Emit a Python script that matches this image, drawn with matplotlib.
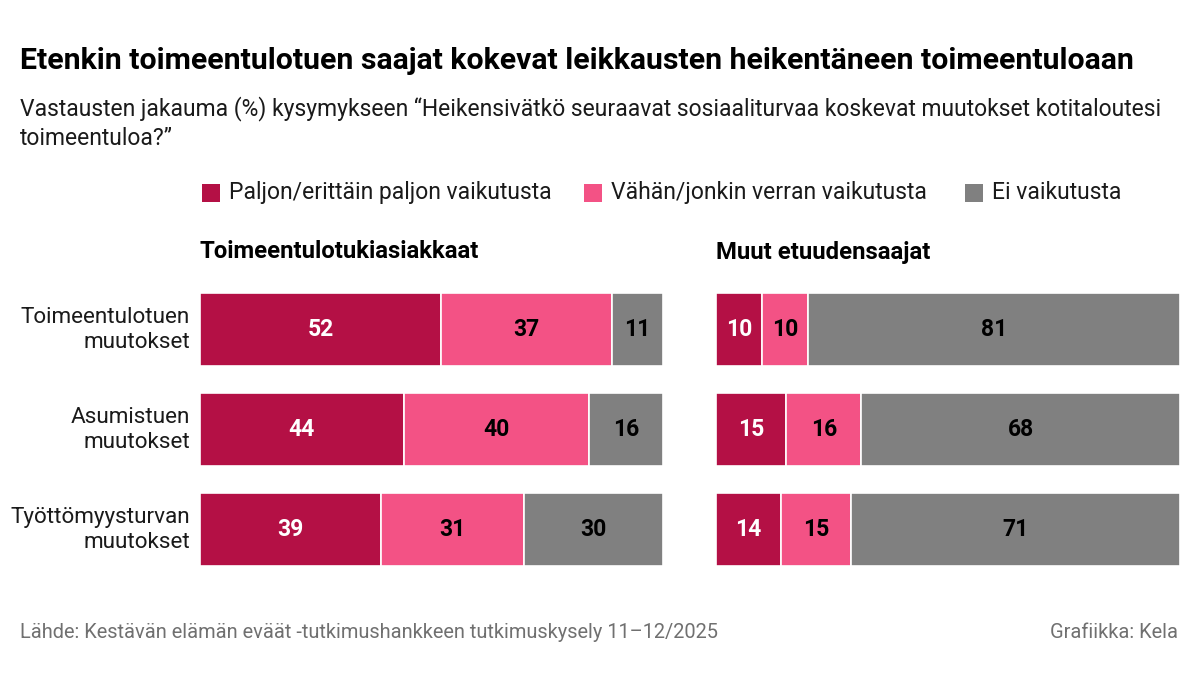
import matplotlib
matplotlib.use("Agg")
import matplotlib.pyplot as plt
from matplotlib import font_manager as fm
from matplotlib.patches import Rectangle

# ---- data ----
categories = ["Toimeentulotuen\nmuutokset", "Asumistuen\nmuutokset", "Työttömyysturvan\nmuutokset"]
series_labels = ["Paljon/erittäin paljon vaikutusta", "Vähän/jonkin verran vaikutusta", "Ei vaikutusta"]
panel_titles = ["Toimeentulotukiasiakkaat", "Muut etuudensaajat"]
left_paljon = [52, 44, 39]
left_vahan = [37, 40, 31]
left_ei = [11, 16, 30]
right_paljon = [10, 15, 14]
right_vahan = [10, 16, 15]
right_ei = [81, 68, 71]

title = "Etenkin toimeentulotuen saajat kokevat leikkausten heikentäneen toimeentuloaan"
subtitle = ("Vastausten jakauma (%) kysymykseen “Heikensivätkö seuraavat sosiaaliturvaa koskevat muutokset kotitaloutesi\n"
            "toimeentuloa?”")
source = "Lähde: Kestävän elämän eväät -tutkimushankkeen tutkimuskysely 11–12/2025"
credit = "Grafiikka: Kela"

colors = ["#B41045", "#F35285", "#808080"]
label_colors = ["white", "black", "black"]

def has_font(name):
    try:
        fm.findfont(fm.FontProperties(family=name), fallback_to_default=False)
        return True
    except Exception:
        return False

body = "Roboto" if has_font("Roboto") else "DejaVu Sans"
plt.rcParams["font.family"] = [body, "DejaVu Sans"]

W, H = 1200, 675
fig = plt.figure(figsize=(W / 100, H / 100), dpi=100)
fig.patch.set_facecolor("white")

def fx(x):
    return x / W

def fy(y):
    return 1 - y / H

TXT = "#1a1a1a"
fig.text(fx(20), fy(61), title, fontsize=21.8, fontweight="bold",
         ha="left", va="center", color="black")
fig.text(fx(20), fy(96), subtitle, fontsize=16.5, ha="left", va="top",
         color=TXT, linespacing=1.35)

# legend
leg_sq = [202, 584, 965]
for i, (lab, c) in enumerate(zip(series_labels, colors)):
    fig.patches.append(Rectangle((fx(leg_sq[i]), fy(202)), 18 / W, 18 / H, transform=fig.transFigure,
                                 facecolor=c, edgecolor="none"))
    fig.text(fx(leg_sq[i] + 27), fy(192), lab, fontsize=16.5, ha="left", va="center",
             color=TXT)

panels = [
    (200, 663, [left_paljon, left_vahan, left_ei]),
    (716, 1180, [right_paljon, right_vahan, right_ei]),
]
top, bottom = 279.5, 579.5
for p, (x0, x1, data) in enumerate(panels):
    ax = fig.add_axes([fx(x0), fy(bottom), (x1 - x0) / W, (bottom - top) / H])
    ax.set_xlim(0, 100)
    ax.set_ylim(len(categories) - 0.5, -0.5)
    ax.axis("off")
    totals = [sum(v[i] for v in data) for i in range(len(categories))]
    lefts = [0.0] * len(categories)
    for s, vals in enumerate(data):
        widths = [vals[i] / totals[i] * 100 for i in range(len(categories))]
        ax.barh(range(len(categories)), widths, left=lefts, height=0.73, color=colors[s],
                edgecolor="white", linewidth=1.2)
        for i in range(len(categories)):
            ax.text(lefts[i] + widths[i] / 2, i, str(vals[i]), ha="center", va="center",
                    fontsize=16.5, fontweight="bold", color=label_colors[s])
        lefts = [lefts[i] + widths[i] for i in range(len(categories))]
    fig.text(fx(x0), fy(252), panel_titles[p], fontsize=17.2, fontweight="bold", ha="left", va="center",
             color="black")
    if p == 0:
        for i, cat in enumerate(categories):
            ax.text(-10 / (x1 - x0) * 100, i, cat, ha="right", va="center", fontsize=16.2,
                    color=TXT, linespacing=1.25)

fig.text(fx(20), fy(633), source, fontsize=14.4, ha="left", va="center", color="#707070")
fig.text(fx(1178), fy(633), credit, fontsize=14.4, ha="right", va="center", color="#707070")

fig.savefig("out.png", dpi=100, facecolor="white")
